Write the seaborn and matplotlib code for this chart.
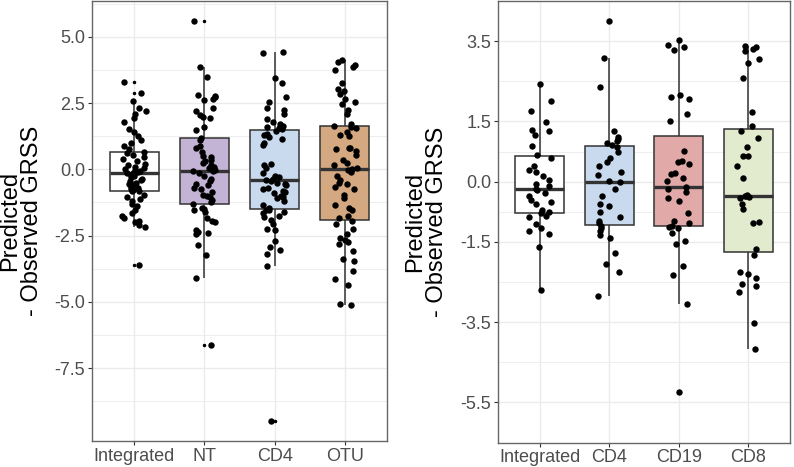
import numpy as np
import pandas as pd
import matplotlib
matplotlib.use("Agg")
import matplotlib.pyplot as plt
import seaborn as sns

# values (predicted - observed GRSS)
left_groups = ["Integrated", "NT", "CD4", "OTU"]
left_integrated = [3.29, 2.89, 2.57, 2.30, 2.22, 2.10, 1.95, 1.80, 1.52, 1.40, 1.25, 1.10, 1.00, 0.90, 0.78, 0.66,
                   0.63, 0.55, 0.45, 0.38, 0.30, 0.22, 0.15, 0.10, 0.05, 0.00, -0.03, -0.07, -0.10, -0.12, -0.14,
                   -0.17, -0.20, -0.25, -0.30, -0.35, -0.40, -0.45, -0.50, -0.55, -0.60, -0.65, -0.70, -0.75, -0.79, -0.81,
                   -0.83, -0.95, -1.05, -1.12, -1.20, -1.30, -1.40, -1.55, -1.65, -1.75, -1.85, -1.95, -2.00, -2.10, -2.18, -3.60]
left_nt = [5.60, 3.86, 3.50, 2.82, 2.78, 2.72, 2.65, 2.60, 2.30, 2.22, 2.05, 1.98, 1.92, 1.58, 1.50, 1.18,
           1.12, 0.90, 0.80, 0.65, 0.50, 0.45, 0.35, 0.30, 0.25, 0.15, 0.10, 0.05, 0.00, -0.02, -0.05,
           -0.07, -0.15, -0.25, -0.35, -0.45, -0.55, -0.60, -0.70, -0.75, -0.85, -0.95, -1.00, -1.05, -1.15, -1.25,
           -1.32, -1.45, -1.50, -1.55, -1.60, -1.85, -1.95, -2.00, -2.30, -2.35, -2.40, -2.45, -2.85, -3.25, -4.12, -6.62]
left_cd4 = [4.43, 4.38, 3.46, 3.26, 2.73, 2.55, 2.30, 2.23, 2.10, 1.90, 1.80, 1.72, 1.65, 1.60, 1.55, 1.52,
            1.45, 1.35, 1.30, 1.22, 1.15, 1.00, 0.92, 0.20, 0.15, 0.05, -0.15, -0.25, -0.30, -0.35, -0.40,
            -0.44, -0.50, -0.55, -0.60, -0.70, -0.75, -0.80, -0.85, -0.90, -1.00, -1.05, -1.10, -1.20, -1.35, -1.45,
            -1.52, -1.55, -1.60, -1.65, -1.75, -1.80, -1.90, -2.05, -2.25, -2.30, -2.70, -2.95, -3.05, -3.20, -3.66, -9.50]
left_otu = [4.11, 4.05, 3.95, 3.85, 3.75, 3.25, 3.05, 2.95, 2.85, 2.65, 2.55, 2.45, 2.25, 2.10, 1.70, 1.65,
            1.60, 1.55, 1.40, 1.30, 1.25, 0.82, 0.80, 0.78, 0.70, 0.55, 0.35, 0.25, 0.15, 0.05, 0.02,
            -0.02, -0.10, -0.25, -0.40, -0.50, -0.55, -0.65, -0.75, -0.95, -1.10, -1.35, -1.45, -1.55, -1.75, -1.85,
            -1.95, -2.05, -2.25, -2.45, -2.60, -2.65, -2.75, -2.80, -3.10, -3.40, -3.45, -3.85, -4.15, -4.35, -5.10, -5.13]

right_groups = ["Integrated", "CD4", "CD19", "CD8"]
right_integrated = [-2.70, -1.64, -1.30, -1.22, -1.15, -1.05, -0.88, -0.85, -0.79, -0.75,
                    -0.70, -0.55, -0.50, -0.45, -0.35, -0.28, -0.22, -0.18,
                    -0.12, -0.05, 0.05, 0.15, 0.25, 0.30, 0.38, 0.60, 0.66,
                    0.88, 1.15, 1.25, 1.28, 1.48, 1.75, 2.02, 2.44]
right_cd4 = [-2.85, -2.25, -2.05, -1.79, -1.40, -1.32, -1.22, -1.15, -1.10, -1.04,
             -0.98, -0.87, -0.75, -0.62, -0.56, -0.37, -0.18, -0.02,
             0.02, 0.17, 0.25, 0.38, 0.48, 0.60, 0.75, 0.86, 0.92,
             0.95, 1.02, 1.05, 1.12, 1.26, 2.35, 3.09, 4.01]
right_cd19 = [-5.23, -3.04, -2.33, -2.10, -1.56, -1.48, -1.29, -1.15, -1.12, -1.10,
              -1.02, -0.98, -0.79, -0.48, -0.40, -0.25, -0.18, -0.14,
              0.02, 0.10, 0.18, 0.21, 0.44, 0.48, 0.52, 0.76, 1.52,
              1.69, 2.05, 2.12, 2.17, 3.27, 3.35, 3.40, 3.52]
right_cd8 = [-4.18, -3.52, -2.75, -2.60, -2.56, -2.41, -2.30, -2.25, -1.83, -1.68,
             -1.03, -1.00, -0.68, -0.55, -0.42, -0.38, -0.36, -0.35,
             -0.33, 0.09, 0.40, 0.63, 0.65, 0.86, 1.09, 1.26, 1.38,
             1.73, 2.59, 2.96, 3.05, 3.25, 3.30, 3.35, 3.38]

left_ticks = [-7.5, -5.0, -2.5, 0.0, 2.5, 5.0]
right_ticks = [-5.5, -3.5, -1.5, 0.0, 1.5, 3.5]

left_colors = ["#FFFFFF", "#C3B4D6", "#C9DAEE", "#D4A880"]
right_colors = ["#FFFFFF", "#C9DAEE", "#E2A9A9", "#E3EBCF"]

sns.set_theme(style="white")
plt.rcParams["font.family"] = ["Liberation Sans", "DejaVu Sans"]
np.random.seed(7)


def long_df(groups, series):
    rows = []
    for g, vals in zip(groups, series):
        for v in vals:
            rows.append({"group": g, "value": v})
    return pd.DataFrame(rows)


def minor_breaks(ticks):
    t = sorted(ticks)
    return [(a + b) / 2 for a, b in zip(t[:-1], t[1:])] + [t[-1] + (t[-1] - t[-2]) / 2,
                                                              t[0] - (t[1] - t[0]) / 2]


def draw_panel(ax, df, groups, colors, ticks, label_x):
    sns.boxplot(data=df, x="group", y="value", order=groups, hue="group", hue_order=groups,
                palette=colors, legend=False, saturation=1, width=0.7, ax=ax,
                linecolor="#333333", linewidth=1.1, fliersize=1.5, showcaps=False,
                flierprops={"marker": "o", "markerfacecolor": "black", "markeredgecolor": "black"},
                medianprops={"linewidth": 2.4, "color": "#333333"}, zorder=2)
    sns.stripplot(data=df, x="group", y="value", order=groups, color="black", size=4.6,
                  jitter=0.17, ax=ax, zorder=3)

    lo, hi = df["value"].min(), df["value"].max()
    pad = 0.05 * (hi - lo)
    ax.set_ylim(lo - pad, hi + pad)
    ax.set_xlim(-0.6, len(groups) - 0.4)

    ax.set_yticks(ticks)
    ax.set_yticklabels([f"{t:.1f}" for t in ticks])
    ax.set_yticks(minor_breaks(ticks), minor=True)
    ax.grid(True, which="major", color="#EBEBEB", linewidth=1.0, zorder=0)
    ax.grid(True, which="minor", axis="y", color="#EBEBEB", linewidth=0.6, zorder=0)
    ax.set_axisbelow(True)

    ax.tick_params(axis="both", which="major", length=3, width=0.8, color="#333333",
                   labelsize=13, labelcolor="#4D4D4D", pad=2, left=True, bottom=True)
    ax.tick_params(axis="y", which="minor", length=0)
    for s in ax.spines.values():
        s.set_color("#666666")
        s.set_linewidth(1.0)

    ax.set_xlabel("")
    ax.set_ylabel("Predicted\n- Observed GRSS", fontsize=17, color="black", linespacing=1.0)
    ax.yaxis.set_label_coords(label_x, 0.5)


fig = plt.figure(figsize=(7.94, 4.67), dpi=100)
ax1 = fig.add_axes([92 / 794, 26 / 467, 295 / 794, 440 / 467])
ax2 = fig.add_axes([498 / 794, 24.5 / 467, 292 / 794, 441.5 / 467])

df_left = long_df(left_groups, [left_integrated, left_nt, left_cd4, left_otu])
df_right = long_df(right_groups, [right_integrated, right_cd4, right_cd19, right_cd8])

draw_panel(ax1, df_left, left_groups, left_colors, left_ticks, -0.165)
draw_panel(ax2, df_right, right_groups, right_colors, right_ticks, -0.172)

fig.savefig("out.png", dpi=100)
